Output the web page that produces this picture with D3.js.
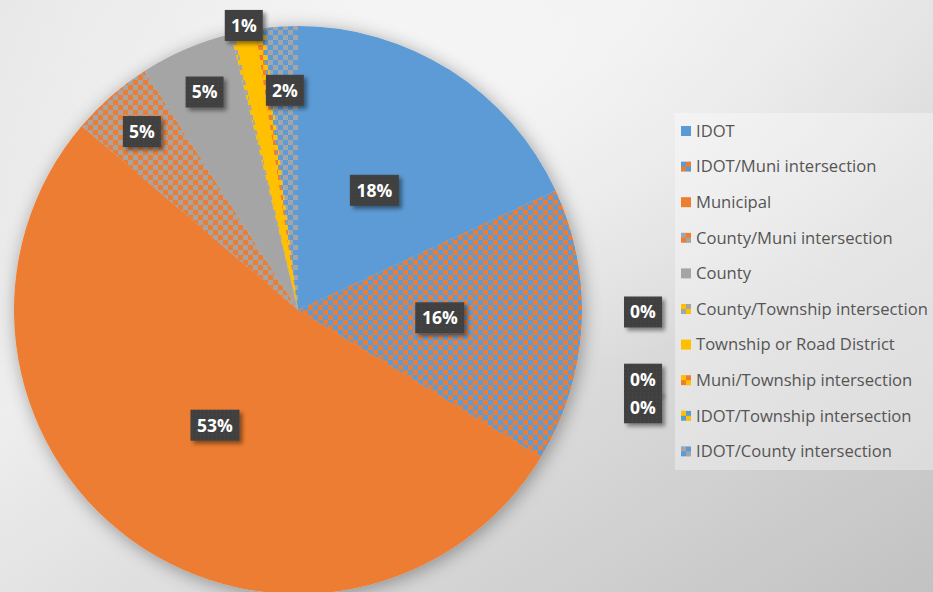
<!DOCTYPE html>
<html><head><meta charset="utf-8">
<script src="https://cdn.jsdelivr.net/npm/d3@7"></script>
<style>html,body{margin:0;padding:0;background:#fff;}svg{display:block;}</style>
</head><body>
<svg id="chart" width="933" height="592"></svg>
<script>
const categories = ["IDOT","IDOT/Muni intersection","Municipal","County/Muni intersection","County","County/Township intersection","Township or Road District","Muni/Township intersection","IDOT/Township intersection","IDOT/County intersection"];
const values = [18.1, 15.6, 52.6, 4.7, 5.3, 0.2, 1.2, 0.3, 0.2, 1.9];
const colorA = ["#5B9BD5","#ED7D31","#ED7D31","#ED7D31","#A5A5A5","#A5A5A5","#FFC000","#ED7D31","#5B9BD5","#5B9BD5"];
const colorB = [null,"#5B9BD5",null,"#A5A5A5",null,"#FFC000",null,"#FFC000","#FFC000","#A5A5A5"];

const W = 933, H = 592;
const svg = d3.select("#chart");
const defs = svg.append("defs");
const font = "'Segoe UI','Open Sans','Noto Sans',sans-serif";

// background
const bg = defs.append("linearGradient").attr("id","bg").attr("x1","0").attr("y1","0").attr("x2","1").attr("y2","1");
bg.append("stop").attr("offset","0").attr("stop-color","#e4e4e4");
bg.append("stop").attr("offset","0.35").attr("stop-color","#eeeeee");
bg.append("stop").attr("offset","1").attr("stop-color","#c2c2c2");
svg.append("rect").attr("width",W).attr("height",H).attr("fill","url(#bg)");
const bg2 = defs.append("radialGradient").attr("id","bg2").attr("cx","0.45").attr("cy","0.05").attr("r","0.6");
bg2.append("stop").attr("offset","0").attr("stop-color","#f6f6f6").attr("stop-opacity",0.9);
bg2.append("stop").attr("offset","1").attr("stop-color","#f6f6f6").attr("stop-opacity",0);
svg.append("rect").attr("width",W).attr("height",H).attr("fill","url(#bg2)");

// patterns
categories.forEach((c,i)=>{
  if(!colorB[i]) return;
  const p = defs.append("pattern").attr("id","pat"+i).attr("patternUnits","userSpaceOnUse").attr("width",10).attr("height",10);
  p.append("rect").attr("width",10).attr("height",10).attr("fill",colorA[i]);
  p.append("rect").attr("width",5).attr("height",5).attr("fill",colorB[i]);
  p.append("rect").attr("x",5).attr("y",5).attr("width",5).attr("height",5).attr("fill",colorB[i]);
  const q = defs.append("pattern").attr("id","lpat"+i).attr("patternUnits","objectBoundingBox").attr("width",1).attr("height",1);
  q.append("rect").attr("width",10).attr("height",10).attr("fill",colorA[i]);
  q.append("rect").attr("width",5).attr("height",5).attr("fill",colorB[i]);
  q.append("rect").attr("x",5).attr("y",5).attr("width",5).attr("height",5).attr("fill",colorB[i]);
});
const fillOf = i => colorB[i] ? `url(#pat${i})` : colorA[i];
const lfillOf = i => colorB[i] ? `url(#lpat${i})` : colorA[i];

// filters
const sh = defs.append("filter").attr("id","pieShadow").attr("x","-20%").attr("y","-20%").attr("width","140%").attr("height","140%");
sh.append("feGaussianBlur").attr("in","SourceAlpha").attr("stdDeviation",9).attr("result","b");
sh.append("feOffset").attr("in","b").attr("dx",2).attr("dy",3).attr("result","o");
sh.append("feComponentTransfer").attr("in","o").attr("result","o2").append("feFuncA").attr("type","linear").attr("slope",0.35);
const m1 = sh.append("feMerge"); m1.append("feMergeNode").attr("in","o2"); m1.append("feMergeNode").attr("in","SourceGraphic");

const ls = defs.append("filter").attr("id","lblShadow").attr("x","-30%").attr("y","-30%").attr("width","170%").attr("height","170%");
ls.append("feGaussianBlur").attr("in","SourceAlpha").attr("stdDeviation",2).attr("result","b");
ls.append("feOffset").attr("in","b").attr("dx",3).attr("dy",3).attr("result","o");
ls.append("feComponentTransfer").attr("in","o").attr("result","o2").append("feFuncA").attr("type","linear").attr("slope",0.45);
const m2 = ls.append("feMerge"); m2.append("feMergeNode").attr("in","o2"); m2.append("feMergeNode").attr("in","SourceGraphic");

const dots = defs.append("pattern").attr("id","dots").attr("patternUnits","userSpaceOnUse").attr("width",4).attr("height",4);
dots.append("rect").attr("width",4).attr("height",4).attr("fill","#404040");
dots.append("rect").attr("x",1).attr("y",1).attr("width",1).attr("height",1).attr("fill","#4a4a4a");

// pie
const cx = 298, cy = 310, R = 284;
const pie = d3.pie().sort(null).value(d=>d);
const arcs = pie(values);
const arc = d3.arc().innerRadius(0).outerRadius(R);
const g = svg.append("g").attr("transform",`translate(${cx},${cy})`);
g.append("g").attr("filter","url(#pieShadow)").selectAll("path").data(arcs).join("path")
  .attr("d",arc).attr("fill",(d,i)=>fillOf(i));

// legend
const legX = 675, legY = 113, legH = 357, rowStep = 35.6;
svg.append("rect").attr("x",legX).attr("y",legY).attr("width",W-legX).attr("height",legH).attr("fill","#ffffff").attr("fill-opacity",0.35);
const rowY = i => legY + 18 + i*rowStep;
const lg = svg.append("g");
categories.forEach((c,i)=>{
  lg.append("rect").attr("x",681).attr("y",rowY(i)-5).attr("width",10).attr("height",10).attr("fill",lfillOf(i));
  lg.append("text").attr("x",696).attr("y",rowY(i)).attr("dy","0.35em")
    .attr("font-family",font).attr("font-size",16.6).attr("fill","#555555").text(c);
});

// labels
const total = d3.sum(values);
const fmt = d3.format(".0%");
const lblG = svg.append("g");
arcs.forEach((a,i)=>{
  const p = values[i]/total*100;
  const mid = (a.startAngle+a.endAngle)/2;
  let x, y;
  if (p < 0.5) {
    x = 643; y = rowY(i) + (i===8 ? -8 : (i===5 ? 3 : -1));
  } else {
    const f = p >= 10 ? 0.5 : (p >= 4 ? 0.835 : (p >= 1.5 ? 0.775 : 1.02));
    const rr = R*f;
    x = cx + Math.sin(mid)*rr; y = cy - Math.cos(mid)*rr;
  }
  const txt = fmt(values[i]/total);
  const w = txt.length*11 + 16, h = 31;
  const lg2 = lblG.append("g").attr("transform",`translate(${x},${y})`);
  lg2.append("rect").attr("x",-w/2).attr("y",-h/2).attr("width",w).attr("height",h).attr("fill","url(#dots)").attr("filter","url(#lblShadow)");
  lg2.append("text").attr("text-anchor","middle").attr("dy","0.36em")
    .attr("font-family",font).attr("font-size",17.5).attr("font-weight","bold").attr("fill","#ffffff").text(txt);
});
</script>
</body></html>
